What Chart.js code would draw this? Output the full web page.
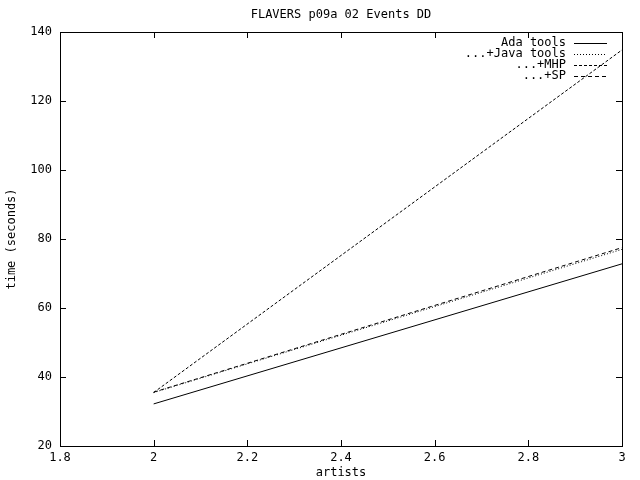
<!DOCTYPE html>
<html>
<head>
<meta charset="utf-8">
<script src="https://cdn.jsdelivr.net/npm/chart.js@4/dist/chart.umd.min.js"></script>
<style>
  html, body { margin: 0; padding: 0; background: #fff; }
  canvas { display: block; }
</style>
</head>
<body>
<canvas id="chart" width="640" height="480"></canvas>
<script>
// data
const artists = [2, 3];
const adaTools = [32.2, 72.8];
const javaTools = [35.5, 77.0];
const mhp = [35.5, 134.8];
const sp = [35.6, 77.5];
const seriesNames = ['Ada tools', '...+Java tools', '...+MHP', '...+SP'];
const xTicks = [1.8, 2, 2.2, 2.4, 2.6, 2.8, 3];
const yTicks = [20, 40, 60, 80, 100, 120, 140];

const FONT = '12px "DejaVu Sans Mono", monospace';
const dashes = [[], [1, 2], [3, 2], [4, 3]];

function pts(ys) {
    return artists.map((x, i) => ({ x: x, y: ys[i] }));
}

// gnuplot-like frame, inward ticks, axis titles and key
const gnuplotLook = {
    id: 'gnuplotLook',
    afterDraw(chart) {
        const ctx = chart.ctx;
        const a = chart.chartArea;
        const xs = chart.scales.x, ys = chart.scales.y;
        ctx.save();
        ctx.strokeStyle = '#000';
        ctx.lineWidth = 1;
        ctx.setLineDash([]);
        ctx.strokeRect(Math.round(a.left) + 0.5, Math.round(a.top) + 0.5,
            Math.round(a.right - a.left), Math.round(a.bottom - a.top));
        ctx.beginPath();
        xTicks.forEach(v => {
            const px = Math.round(xs.getPixelForValue(v)) + 0.5;
            ctx.moveTo(px, a.bottom); ctx.lineTo(px, a.bottom - 6);
            ctx.moveTo(px, a.top); ctx.lineTo(px, a.top + 6);
        });
        yTicks.forEach(v => {
            const py = Math.round(ys.getPixelForValue(v)) + 0.5;
            ctx.moveTo(a.left, py); ctx.lineTo(a.left + 6, py);
            ctx.moveTo(a.right, py); ctx.lineTo(a.right - 6, py);
        });
        ctx.stroke();

        ctx.fillStyle = '#000';
        ctx.font = FONT;
        ctx.textBaseline = 'middle';
        // axis titles
        ctx.textAlign = 'center';
        ctx.fillText('artists', (a.left + a.right) / 2, 473);
        ctx.save();
        ctx.translate(12, (a.top + a.bottom) / 2);
        ctx.rotate(-Math.PI / 2);
        ctx.fillText('time (seconds)', 0, 0);
        ctx.restore();

        // key
        chart.data.datasets.forEach((ds, i) => {
            const y = 43 + i * 11;
            ctx.textAlign = 'right';
            ctx.fillText(ds.label, 566, y);
            ctx.setLineDash(dashes[i]);
            ctx.beginPath();
            ctx.moveTo(574, y + 0.5);
            ctx.lineTo(607, y + 0.5);
            ctx.stroke();
        });
        ctx.restore();
    }
};

const makeSet = (i, ys) => ({
    label: seriesNames[i],
    data: pts(ys),
    showLine: true,
    borderColor: '#000',
    borderWidth: 1,
    borderDash: dashes[i],
    pointRadius: 0,
    fill: false
});

const config = {
    type: 'scatter',
    data: {
        datasets: [
            makeSet(0, adaTools),
            makeSet(1, javaTools),
            makeSet(2, mhp),
            makeSet(3, sp)
        ]
    },
    options: {
        responsive: false,
        animation: false,
        layout: { padding: { left: 0, right: 18, top: 0, bottom: 0 } },
        plugins: {
            legend: { display: false },
            tooltip: { enabled: false },
            title: {
                display: true,
                text: 'FLAVERS p09a 02 Events DD',
                fullSize: false,
                color: '#000',
                font: { family: '"DejaVu Sans Mono", monospace', size: 12, weight: 'normal', lineHeight: 1 },
                padding: { top: 9, bottom: 11 }
            }
        },
        scales: {
            x: {
                type: 'linear',
                min: 1.8,
                max: 3,
                afterBuildTicks: s => { s.ticks = xTicks.map(v => ({ value: v })); },
                afterFit: s => { s.height = 34; },
                grid: { display: false, drawTicks: false },
                border: { display: false },
                ticks: {
                    color: '#000',
                    padding: 5,
                    maxRotation: 0,
                    font: { family: '"DejaVu Sans Mono", monospace', size: 12 },
                    callback: v => String(v)
                }
            },
            y: {
                min: 20,
                max: 140,
                afterBuildTicks: s => { s.ticks = yTicks.map(v => ({ value: v })); },
                afterFit: s => { s.width = 60; },
                grid: { display: false, drawTicks: false },
                border: { display: false },
                ticks: {
                    color: '#000',
                    padding: 8,
                    font: { family: '"DejaVu Sans Mono", monospace', size: 12 }
                }
            }
        }
    },
    plugins: [gnuplotLook]
};

new Chart(document.getElementById('chart').getContext('2d'), config);
</script>
</body>
</html>
